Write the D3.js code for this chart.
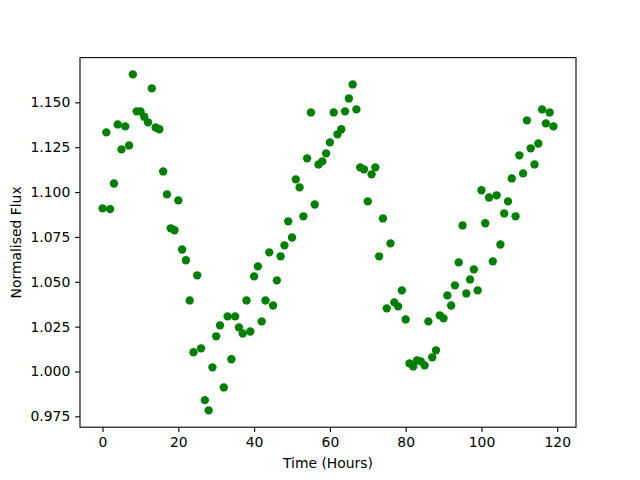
<!DOCTYPE html>
<html>
<head>
<meta charset="utf-8">
<script src="https://cdn.jsdelivr.net/npm/d3@7"></script>
<style>
  html, body { margin: 0; padding: 0; background: #fff; }
  svg { display: block; }
  text { font-family: "DejaVu Sans", sans-serif; }
</style>
</head>
<body>
<svg id="chart" width="640" height="480"></svg>
<script>
const hours = d3.range(0, 120);
const flux = [
  1.0909, 1.1333, 1.0905, 1.1048, 1.1377, 1.1238, 1.1366, 1.1260, 1.1656, 1.1450,
  1.1450, 1.1420, 1.1389, 1.1578, 1.1360, 1.1350, 1.1115, 1.0987, 1.0798, 1.0787,
  1.0954, 1.0680, 1.0620, 1.0396, 1.0107, 1.0536, 1.0129, 0.9840, 0.9783, 1.0023,
  1.0196, 1.0257, 0.9911, 1.0307, 1.0068, 1.0307, 1.0246, 1.0212, 1.0396, 1.0223,
  1.0530, 1.0586, 1.0279, 1.0396, 1.0664, 1.0368, 1.0508, 1.0642, 1.0703, 1.0837,
  1.0747, 1.1071, 1.1026, 1.0865, 1.1188, 1.1444, 1.0931, 1.1154, 1.1171, 1.1216,
  1.1277, 1.1444, 1.1322, 1.1350, 1.1450, 1.1522, 1.1600, 1.1461, 1.1138, 1.1127,
  1.0948, 1.1099, 1.1138, 1.0642, 1.0853, 1.0352, 1.0714, 1.0385, 1.0363, 1.0452,
  1.0290, 1.0045, 1.0028, 1.0062, 1.0056, 1.0034, 1.0279, 1.0079, 1.0118, 1.0313,
  1.0296, 1.0424, 1.0368, 1.0480, 1.0608, 1.0814, 1.0435, 1.0513, 1.0569, 1.0452,
  1.1010, 1.0826, 1.0970, 1.0614, 1.0982, 1.0708, 1.0881, 1.0948, 1.1076, 1.0865,
  1.1205, 1.1104, 1.1400, 1.1244, 1.1154, 1.1271, 1.1461, 1.1383, 1.1444, 1.1366
];
const xTicks = [0, 20, 40, 60, 80, 100, 120];
const yTicks = [0.975, 1.000, 1.025, 1.050, 1.075, 1.100, 1.125, 1.150];
const xLabel = "Time (Hours)";
const yLabel = "Normalised Flux";

const mLeft = 80, mRight = 576, mTop = 57.6, mBottom = 427.2;
const svg = d3.select("#chart");

function padded(ext) {
  const m = (ext[1] - ext[0]) * 0.05;
  return [ext[0] - m, ext[1] + m];
}
const x = d3.scaleLinear().domain(padded(d3.extent(hours))).range([mLeft, mRight]);
const y = d3.scaleLinear().domain(padded(d3.extent(flux))).range([mBottom, mTop]);

const data = hours.map((h, i) => ({ h, f: flux[i] }));

svg.append("g").selectAll("circle").data(data).join("circle")
  .attr("cx", d => x(d.h))
  .attr("cy", d => y(d.f))
  .attr("r", 4.17)
  .attr("fill", "#008000");

const tickLen = 4.86;
const xAxis = svg.append("g")
  .attr("transform", `translate(0,${mBottom})`)
  .call(d3.axisBottom(x).tickValues(xTicks).tickFormat(d3.format("d"))
    .tickSize(tickLen).tickPadding(4.86).tickSizeOuter(0));
const yAxis = svg.append("g")
  .attr("transform", `translate(${mLeft},0)`)
  .call(d3.axisLeft(y).tickValues(yTicks).tickFormat(d3.format(".3f"))
    .tickSize(tickLen).tickPadding(4.86).tickSizeOuter(0));

[xAxis, yAxis].forEach(g => {
  g.select(".domain").remove();
  g.selectAll(".tick line").attr("stroke", "#000").attr("stroke-width", 1.1);
  g.selectAll(".tick text").attr("fill", "#000")
    .style("font-family", "'DejaVu Sans', sans-serif").style("font-size", "13.9px");
});

svg.append("rect")
  .attr("x", mLeft).attr("y", mTop)
  .attr("width", mRight - mLeft).attr("height", mBottom - mTop)
  .attr("fill", "none").attr("stroke", "#000").attr("stroke-width", 1.1);

svg.append("text")
  .attr("x", (mLeft + mRight) / 2).attr("y", 468)
  .attr("text-anchor", "middle")
  .style("font-size", "13.9px").attr("fill", "#000")
  .text(xLabel);

svg.append("text")
  .attr("transform", `translate(21,${(mTop + mBottom) / 2}) rotate(-90)`)
  .attr("text-anchor", "middle")
  .style("font-size", "13.9px").attr("fill", "#000")
  .text(yLabel);
</script>
</body>
</html>
